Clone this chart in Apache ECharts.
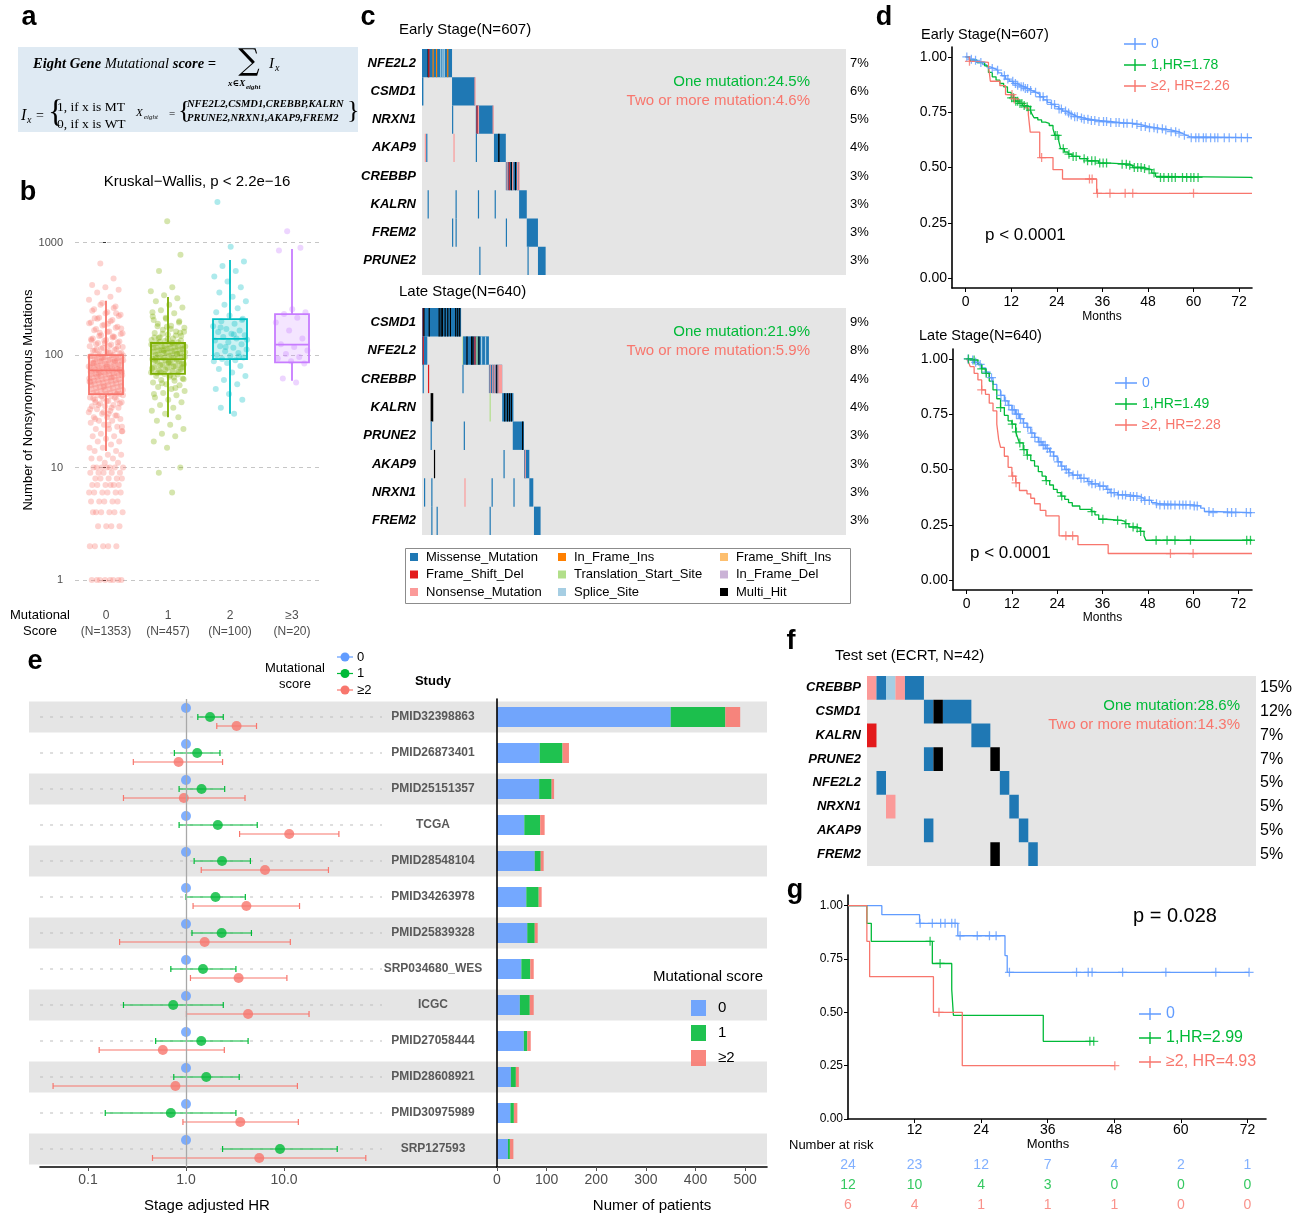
<!DOCTYPE html>
<html>
<head>
<meta charset="utf-8">
<title>Eight gene mutational score</title>
<script src="https://cdn.jsdelivr.net/npm/echarts@6.0.0/dist/echarts.min.js"></script>
<style>
html, body { margin: 0; padding: 0; background: #fff; }
#chart { width: 1298px; height: 1217px; }
</style>
</head>
<body>
<div id="chart"></div>
<script>
// ---------- data ----------
// b: nonsynonymous mutations by score
const scoreLabels = ['0', '1', '2', '≥3'];
const scoreN = [1353, 457, 100, 20];
const boxStats = [[14, 45, 73, 100, 304], [28, 68, 92, 128, 328], [30, 92, 139, 209, 698], [59, 86, 124, 231, 875]];
const tmbTicks = [1, 10, 100, 1000];
const tmb0 = [1, 1, 1, 1, 1, 1, 1, 1, 2, 2, 2, 2, 2, 3, 3, 3, 3, 4, 4, 4, 4, 4, 4, 5, 5, 5, 5, 5, 6, 6, 6, 6, 6, 6,
  7, 7, 7, 7, 7, 7, 8, 8, 8, 8, 8, 9, 9, 9, 9, 9, 10, 10, 10, 10, 10, 10, 10, 11, 11, 12, 12, 12, 13, 13, 14, 14, 15, 15,
  16, 17, 17, 18, 19, 19, 20, 21, 22, 22, 23, 24, 25, 26, 26, 27, 28, 28, 29, 30, 31, 32, 33, 34, 35, 35, 36, 37, 38, 39,
  40, 40, 41, 42, 43, 44, 45, 45, 46, 47, 48, 49, 50, 51, 52, 53, 54, 55, 56, 57, 58, 59, 60, 61, 62, 63, 64, 66, 67,
  68, 69, 70, 71, 72, 74, 75, 76, 77, 78, 80, 81, 83, 85, 86, 88, 90, 91, 92, 94, 96, 98, 100, 102, 105, 108, 110, 113,
  116, 120, 124, 128, 132, 136, 140, 145, 150, 156, 162, 170, 178, 186, 195, 205, 215, 228, 240, 255, 270, 290, 310,
  330, 360, 380, 400, 420, 480, 650,
  21, 24, 27, 29, 31, 33, 34, 36, 37, 39, 41, 42, 43, 44, 46, 47, 48, 49, 50, 51, 52, 53, 54, 55, 56, 57, 58, 59, 60, 61,
  62, 63, 64, 65, 66, 67, 68, 69, 70, 71, 72, 73, 74, 75, 76, 77, 78, 79, 80, 82, 83, 84, 85, 87, 88, 89, 90, 92, 93,
  95, 97, 99, 101, 103, 106, 109, 111, 114, 118, 121, 125, 129, 134, 138, 143, 148, 154, 160, 166, 175, 183, 192, 200,
  210, 222, 235, 248, 262, 280, 23, 30, 38, 45, 52, 58, 63, 68, 73, 79, 84, 89, 94, 99, 104, 112, 119, 127, 135, 147,
  158, 172, 190, 212, 235];
const tmb1 = [6, 9, 10, 15, 17, 19, 20, 22, 24, 26, 28, 30, 32, 34, 36, 38, 40, 42, 44, 46, 48, 50, 52, 54, 55, 57, 59,
  60, 62, 64, 65, 67, 68, 70, 72, 73, 75, 77, 78, 80, 82, 83, 85, 87, 88, 90, 92, 93, 95, 97, 98, 100, 102, 104, 106,
  108, 110, 112, 114, 116, 118, 120, 122, 125, 128, 130, 133, 136, 140, 144, 148, 152, 157, 162, 168, 175, 182, 190,
  200, 210, 220, 235, 250, 265, 280, 300, 320, 340, 370, 400, 560, 780, 1550,
  45, 51, 56, 61, 66, 69, 71, 74, 76, 79, 81, 84, 86, 89, 91, 94, 96, 99, 101, 103, 105, 107, 109, 111, 113, 115, 117,
  119, 121, 124, 127, 131, 135, 139, 143, 149, 155, 161, 170, 180, 195, 215, 240, 63, 70, 78, 86, 93, 102, 110, 119,
  129, 142, 158, 178, 205];
const tmb2 = [30, 34, 40, 45, 50, 55, 60, 65, 70, 75, 80, 85, 88, 90, 92, 95, 98, 100, 104, 108, 112, 116, 120, 125, 130,
  135, 140, 145, 150, 155, 160, 165, 170, 180, 190, 200, 210, 225, 240, 260, 280, 300, 330, 360, 400, 450, 500, 560,
  620, 680, 920, 2300, 97, 118, 137, 152, 176, 205];
const tmb3 = [57, 62, 84, 88, 93, 96, 102, 110, 118, 125, 140, 165, 195, 215, 232, 240, 255, 850, 900, 1260];

// c / f: oncoprints  [row, firstSample, lastSample, type]
const MUT_CODES = ['M', 'FSD', 'NON', 'IFI', 'TSS', 'SPL', 'FSI', 'IFD', 'MH'];
const MUT_NAMES = ['Missense_Mutation', 'Frame_Shift_Del', 'Nonsense_Mutation', 'In_Frame_Ins', 'Translation_Start_Site',
  'Splice_Site', 'Frame_Shift_Ins', 'In_Frame_Del', 'Multi_Hit'];
const MUT_COLORS = ['#1F78B4', '#E31A1C', '#FB9A99', '#FF7F00', '#B2DF8A', '#A6CEE3', '#FDBF6F', '#CAB2D6', '#000000'];

const genesEarly = ['NFE2L2', 'CSMD1', 'NRXN1', 'AKAP9', 'CREBBP', 'KALRN', 'FREM2', 'PRUNE2'];
const pctEarly = ['7%', '6%', '5%', '4%', '3%', '3%', '3%', '3%'];
const segEarly = [
  [0, 0, 42, 'M'], [0, 8, 8, 'MH'], [0, 9, 9, 'FSD'], [0, 15, 15, 'IFI'], [0, 20, 20, 'IFI'], [0, 26, 26, 'SPL'],
  [0, 29, 29, 'SPL'], [0, 31, 31, 'SPL'], [0, 36, 36, 'IFI'],
  [1, 0, 1, 'M'], [1, 43, 75, 'M'], [1, 75, 75, 'NON'],
  [2, 43, 43, 'M'], [2, 77, 101, 'M'], [2, 78, 78, 'FSD'], [2, 80, 80, 'NON'], [2, 101, 101, 'NON'],
  [3, 4, 4, 'NON'], [3, 6, 6, 'M'], [3, 45, 45, 'NON'], [3, 77, 77, 'M'], [3, 103, 119, 'M'], [3, 109, 110, 'MH'],
  [4, 120, 138, 'M'], [4, 121, 121, 'NON'], [4, 124, 124, 'FSD'], [4, 127, 127, 'MH'], [4, 129, 129, 'NON'],
  [4, 133, 133, 'MH'], [4, 136, 136, 'NON'], [4, 138, 138, 'NON'],
  [5, 8, 8, 'M'], [5, 48, 48, 'M'], [5, 80, 80, 'M'], [5, 104, 104, 'M'], [5, 139, 149, 'M'],
  [6, 43, 43, 'M'], [6, 48, 48, 'M'], [6, 120, 120, 'M'], [6, 150, 165, 'M'],
  [7, 82, 82, 'M'], [7, 151, 151, 'M'], [7, 166, 176, 'M']
];
const genesLate = ['CSMD1', 'NFE2L2', 'CREBBP', 'KALRN', 'PRUNE2', 'AKAP9', 'NRXN1', 'FREM2'];
const pctLate = ['9%', '8%', '4%', '4%', '3%', '3%', '3%', '3%'];
const segLate = [
  [0, 0, 58, 'M'], [0, 1, 1, 'FSD'], [0, 2, 2, 'MH'], [0, 10, 10, 'MH'], [0, 25, 25, 'MH'], [0, 28, 28, 'MH'],
  [0, 30, 30, 'MH'], [0, 34, 34, 'MH'], [0, 38, 38, 'MH'], [0, 42, 42, 'MH'], [0, 50, 50, 'MH'], [0, 53, 53, 'MH'],
  [0, 56, 56, 'MH'],
  [1, 0, 7, 'M'], [1, 1, 1, 'FSD'], [1, 61, 61, 'TSS'], [1, 62, 100, 'M'], [1, 67, 67, 'MH'], [1, 74, 74, 'MH'],
  [1, 76, 76, 'MH'], [1, 79, 79, 'FSD'], [1, 82, 82, 'TSS'], [1, 85, 85, 'MH'], [1, 89, 89, 'SPL'], [1, 95, 95, 'SPL'],
  [2, 1, 1, 'M'], [2, 9, 9, 'FSD'], [2, 61, 61, 'M'], [2, 101, 120, 'M'], [2, 102, 102, 'NON'], [2, 106, 106, 'NON'],
  [2, 109, 109, 'NON'], [2, 112, 112, 'MH'], [2, 114, 114, 'NON'], [2, 116, 120, 'NON'],
  [3, 13, 16, 'MH'], [3, 102, 102, 'TSS'], [3, 121, 137, 'M'], [3, 124, 124, 'MH'], [3, 128, 128, 'MH'],
  [3, 131, 131, 'MH'], [3, 134, 134, 'MH'],
  [4, 13, 13, 'M'], [4, 63, 63, 'M'], [4, 137, 153, 'M'], [4, 151, 151, 'MH'],
  [5, 18, 18, 'MH'], [5, 123, 123, 'M'], [5, 154, 161, 'M'], [5, 155, 155, 'NON'],
  [6, 3, 3, 'M'], [6, 14, 14, 'M'], [6, 64, 64, 'NON'], [6, 105, 105, 'M'], [6, 138, 138, 'M'], [6, 162, 167, 'M'],
  [7, 14, 14, 'M'], [7, 22, 22, 'M'], [7, 102, 102, 'M'], [7, 169, 178, 'M']
];
const genesTest = ['CREBBP', 'CSMD1', 'KALRN', 'PRUNE2', 'NFE2L2', 'NRXN1', 'AKAP9', 'FREM2'];
const pctTest = ['15%', '12%', '7%', '7%', '5%', '5%', '5%', '5%'];
const segTest = [
  [0, 0, 0, 'NON'], [0, 1, 1, 'M'], [0, 2, 2, 'SPL'], [0, 3, 3, 'NON'], [0, 4, 5, 'M'],
  [1, 6, 6, 'M'], [1, 7, 7, 'MH'], [1, 8, 10, 'M'],
  [2, 0, 0, 'FSD'], [2, 11, 12, 'M'],
  [3, 6, 6, 'M'], [3, 7, 7, 'MH'], [3, 13, 13, 'MH'],
  [4, 1, 1, 'M'], [4, 14, 14, 'M'],
  [5, 2, 2, 'NON'], [5, 15, 15, 'M'],
  [6, 6, 6, 'M'], [6, 16, 16, 'M'],
  [7, 13, 13, 'MH'], [7, 17, 17, 'M']
];

// d / g: Kaplan-Meier  [month, survival]
const monthTicks = [0, 12, 24, 36, 48, 60, 72];
const survTicks = [0, 0.25, 0.5, 0.75, 1];
const earlyS0 = [[0, 1], [1, 0.99], [2, 0.985], [3, 0.975], [4.5, 0.965], [5.5, 0.955], [6.5, 0.948], [7.5, 0.94],
  [8.5, 0.928], [9.5, 0.915], [10.5, 0.9], [11.5, 0.89], [12.5, 0.88], [13.5, 0.872], [14.5, 0.865], [15.5, 0.857],
  [16.5, 0.848], [17.5, 0.84], [18.5, 0.832], [19.5, 0.82], [20.5, 0.806], [21.5, 0.795], [22.5, 0.785], [23.5, 0.775],
  [24.5, 0.765], [25.5, 0.755], [26.5, 0.746], [27.5, 0.738], [28.5, 0.73], [29.5, 0.724], [31, 0.718], [33, 0.713],
  [35, 0.708], [38, 0.703], [41, 0.7], [44, 0.695], [46, 0.686], [48, 0.68], [50, 0.675], [52, 0.67], [54, 0.662],
  [56, 0.655], [57, 0.646], [58, 0.64], [59, 0.635], [75.4, 0.635]];
const earlyS1 = [[0, 1], [1, 0.985], [3, 0.975], [5, 0.96], [6, 0.93], [7, 0.91], [8, 0.895], [9, 0.88], [10, 0.865],
  [11, 0.84], [12, 0.815], [13, 0.8], [14, 0.79], [15, 0.78], [16, 0.775], [17, 0.76], [17.5, 0.74], [18, 0.725],
  [19, 0.715], [20, 0.705], [21, 0.7], [22, 0.69], [23, 0.675], [23.5, 0.645], [24.5, 0.62], [25, 0.585], [26, 0.57],
  [27, 0.56], [28, 0.55], [30, 0.54], [32, 0.53], [35, 0.52], [38, 0.515], [43, 0.51], [44, 0.5], [47, 0.495],
  [48, 0.49], [49, 0.475], [50, 0.46], [51, 0.455], [75.4, 0.45]];
const earlyS2 = [[0, 1], [1, 0.98], [3, 0.975], [6, 0.96], [6.5, 0.89], [9, 0.87], [10.5, 0.83], [12.5, 0.81],
  [14, 0.79], [15.5, 0.77], [16.5, 0.74], [17, 0.66], [19.5, 0.545], [23, 0.49], [25.5, 0.448], [34.5, 0.383],
  [75.4, 0.383]];
const earlyC0 = [0.3, 1.5, 2.6, 4, 7, 8.4, 10.2, 11.1, 12.4, 13.1, 13.7, 14.6, 15.2, 15.7, 16.3, 17.1, 18.4, 19.6,
  20.4, 21.4, 22.6, 23.4, 24.6, 25.2, 26.3, 27.1, 27.8, 28.7, 29.4, 30.5, 31.2, 32.2, 33.1, 34, 35.1, 36.3, 37.1, 38.2,
  39.6, 40.4, 41.6, 42.5, 43.9, 45.1, 46.2, 47.3, 48.4, 49.6, 50.5, 51.8, 52.7, 54.1, 55.3, 56.2, 57.6, 59.4, 60.6,
  61.4, 62.6, 63.3, 64.5, 65.6, 66.4, 68.1, 69.4, 71.1, 72.6, 74.2];
const earlyC1 = [12.1, 12.6, 13.2, 13.7, 14.3, 14.8, 15.4, 16.2, 17.1, 23.6, 24.1, 25.7, 27.2, 28.3, 29.1, 31.2, 32.1,
  33.2, 34.1, 35.3, 36.2, 37.1, 41.2, 42.3, 43.2, 44.4, 45.3, 46.2, 47.1, 48.3, 49.6, 51.3, 52.2, 53.4, 54.3, 55.2,
  57.1, 58.2, 59.3, 60.1, 61.2];
const earlyC2 = [1, 12.2, 12.8, 20, 32.6, 33.3, 34.7, 38, 42, 44, 60];
const lateS0 = [[0, 1], [1, 0.995], [2, 0.985], [3, 0.975], [4, 0.96], [5, 0.94], [6, 0.915], [7, 0.885], [8, 0.86],
  [9, 0.835], [10, 0.81], [11, 0.79], [12, 0.77], [13, 0.75], [14, 0.73], [15, 0.71], [16, 0.69], [17, 0.665],
  [18, 0.645], [19, 0.625], [20, 0.61], [21, 0.595], [22, 0.58], [23, 0.56], [24, 0.535], [25, 0.515], [26, 0.5],
  [27, 0.485], [28, 0.475], [30, 0.46], [32, 0.445], [33, 0.435], [35, 0.425], [37, 0.41], [38, 0.395], [40, 0.385],
  [43, 0.378], [46, 0.37], [47, 0.36], [49, 0.35], [50, 0.345], [51, 0.34], [60, 0.335], [62, 0.325], [63, 0.31],
  [65, 0.305], [75.6, 0.305]];
const lateS1 = [[0, 1], [1, 0.995], [3, 0.975], [4, 0.955], [5, 0.935], [6, 0.9], [7, 0.86], [8, 0.82], [9, 0.78],
  [10, 0.745], [11, 0.72], [12, 0.705], [13, 0.67], [13.5, 0.645], [14, 0.62], [15, 0.59], [16, 0.565], [17, 0.54],
  [18, 0.515], [19, 0.49], [20, 0.47], [21, 0.45], [22, 0.43], [23, 0.41], [24, 0.395], [25, 0.38], [26, 0.365],
  [27, 0.35], [28, 0.335], [30, 0.32], [33, 0.31], [34, 0.295], [35, 0.275], [37, 0.27], [41, 0.265], [42, 0.255],
  [43, 0.24], [45, 0.235], [46, 0.22], [47, 0.2], [47.5, 0.18], [75.6, 0.18]];
const lateS2 = [[0, 1], [0.5, 0.985], [1, 0.965], [2, 0.935], [3, 0.905], [4, 0.86], [5, 0.84], [6, 0.8], [7, 0.765],
  [8, 0.705], [8.5, 0.635], [9, 0.6], [10, 0.56], [11, 0.51], [12, 0.47], [13, 0.44], [14, 0.405], [16, 0.39],
  [17, 0.37], [18, 0.345], [19.5, 0.315], [21, 0.29], [24.5, 0.2], [29.5, 0.16], [37.5, 0.12], [75.6, 0.12]];
const lateC0 = [0.4, 1.6, 2.4, 3.6, 5.2, 6.6, 9.1, 10.3, 11.2, 12.1, 12.6, 13.2, 13.7, 14.3, 15.1, 16.2, 17.3, 18.1,
  19.2, 19.7, 20.3, 20.8, 21.4, 22.2, 23.1, 24.3, 25.2, 26.4, 27.1, 28.2, 29.4, 30.3, 31.1, 32.4, 33.2, 34.1, 35.3,
  36.2, 37.4, 38.3, 39.1, 40.2, 41.3, 42.1, 43.4, 44.2, 45.1, 46.3, 47.2, 48.4, 50.3, 51.2, 52.4, 53.3, 54.1, 55.2,
  56.4, 57.3, 58.1, 59.2, 60.3, 61.1, 64.2, 65.3, 69.1, 70.2, 71.3, 74.1, 75.2];
const lateC1 = [0.5, 2, 4, 5.2, 9, 12.1, 13.2, 14.1, 15.2, 16.1, 21.1, 25.2, 33.2, 36.1, 40, 42.2, 44.1, 45.2, 46.1,
  50.2, 53.1, 55.2, 59.3, 74.2, 75.2];
const lateC2 = [4, 12.2, 13.1, 26.3, 28.1, 54, 60];
const testS0 = [[0, 1], [6.1, 0.958], [12.9, 0.917], [19.8, 0.859], [28.3, 0.766], [28.7, 0.6875], [72.3, 0.6875]];
const testS1 = [[0, 1], [3.4, 0.917], [4.2, 0.833], [15.2, 0.729], [18.7, 0.607], [19, 0.486], [35.2, 0.364],
  [44.3, 0.364]];
const testS2 = [[0, 1], [3.4, 0.833], [3.9, 0.667], [15.4, 0.5], [20.6, 0.25], [48.1, 0.25]];
const testC0 = [13, 15.2, 16.7, 17.5, 18.7, 19.3, 20.2, 23.3, 25.5, 26.7, 29.1, 41.2, 43.3, 44, 49.5, 57.3, 66.3, 72.3];
const testC1 = [14.8, 16.6, 43.6, 44.3];
const testC2 = [16.4, 48.1];
const riskTimes = [0, 12, 24, 36, 48, 60, 72];
const risk0 = [24, 23, 12, 7, 4, 2, 1];
const risk1 = [12, 10, 4, 3, 0, 0, 0];
const risk2 = [6, 4, 1, 1, 1, 0, 0];

// e: forest + patients
const studies = ['PMID32398863', 'PMID26873401', 'PMID25151357', 'TCGA', 'PMID28548104', 'PMID34263978',
  'PMID25839328', 'SRP034680_WES', 'ICGC', 'PMID27058444', 'PMID28608921', 'PMID30975989', 'SRP127593'];
const hrRef = 1;
const hr1 = [1.76, 1.30, 1.44, 2.11, 2.33, 2.00, 2.31, 1.49, 0.74, 1.43, 1.61, 0.70, 9.10];
const hr1Lo = [1.32, 0.76, 0.85, 0.85, 1.21, 1.00, 1.15, 0.70, 0.23, 0.49, 0.75, 0.15, 2.36];
const hr1Hi = [2.40, 2.22, 2.48, 5.33, 4.54, 4.03, 4.65, 3.23, 2.40, 4.30, 3.49, 3.23, 34.9];
const hr2 = [3.28, 0.84, 0.95, 11.3, 6.40, 4.13, 1.55, 3.44, 4.30, 0.58, 0.78, 3.58, 5.59];
const hr2Lo = [2.06, 0.29, 0.23, 3.52, 1.43, 1.18, 0.21, 1.11, 1.01, 0.13, 0.044, 0.93, 0.455];
const hr2Hi = [5.24, 2.36, 4.00, 36.3, 28.4, 14.4, 11.6, 10.7, 18.0, 2.46, 13.7, 14.0, 68.3];
const hrTicks = [0.1, 1, 10];
const n0 = [350, 86, 85, 55, 76, 59, 61, 49, 46, 54, 28, 27, 22];
const n1 = [110, 46, 25, 32, 12, 25, 15, 18, 20, 7, 10, 7, 4];
const n2 = [30, 13, 5, 9, 6, 6, 6, 7, 8, 7, 6, 7, 7];
const patientTicks = [0, 100, 200, 300, 400, 500];

// ---------- helpers ----------
const SANS = '"Liberation Sans", Arial, Helvetica, sans-serif';
const SERIF = '"Liberation Serif", "DejaVu Serif", serif';
const BLUE = '#619CFF', GREEN = '#00BA38', RED = '#F8766D';
const KM_COLORS = [BLUE, GREEN, RED];
const BOX_COLORS = ['#F8766D', '#7CAE00', '#00BFC4', '#C77CFF'];
const PLUS = 'path://M0,4.3H10V5.7H0Z M4.3,0H5.7V10H4.3Z';
const PLUS_LINE = 'path://M0,5.3H22V6.7H0Z M10.3,0H11.7V12H10.3Z';

const grids = [], xAxes = [], yAxes = [], series = [], graphics = [], legends = [];
function addGrid(g) { grids.push(Object.assign({ containLabel: false, show: false }, g)); return grids.length - 1; }
function addX(a) { xAxes.push(a); return xAxes.length - 1; }
function addY(a) { yAxes.push(a); return yAxes.length - 1; }
function hexA(hex, a) {
  const n = parseInt(hex.slice(1), 16);
  return 'rgba(' + (n >> 16) + ',' + ((n >> 8) & 255) + ',' + (n & 255) + ',' + a + ')';
}
function T(x, y, text, o) {
  o = o || {};
  return {
    type: 'text', x: x, y: y, silent: true, z: 50,
    style: Object.assign({
      text: text, fill: o.fill || '#000', fontSize: o.size || 13, fontFamily: o.family || SANS,
      fontWeight: o.weight || 'normal', fontStyle: o.style || 'normal',
      align: o.align || 'left', verticalAlign: 'middle', textAlign: o.align || 'left', textVerticalAlign: 'middle'
    }, o.extra || {})
  };
}
// deterministic horizontal jitter (golden-ratio sequence), spread +-0.28 of a category
function jitter(i) { return (((i + 1) * 0.6180339887) % 1 - 0.5) * 0.56; }
function survAt(curve, t) {
  let s = curve[0][1];
  for (const p of curve) { if (p[0] <= t) s = p[1]; else break; }
  return s;
}

// ---------- a: formula ----------
graphics.push({ type: 'rect', shape: { x: 18, y: 47, width: 340, height: 85 }, style: { fill: '#dfeaf3' }, silent: true });
const fb = { fontFamily: SERIF, fontStyle: 'italic', fontWeight: 'bold', fontSize: 14.5 };
const fn = { fontFamily: SERIF, fontStyle: 'italic', fontSize: 14.5 };
graphics.push(T(33, 64, '{b|Eight Gene }{n|Mutational}{b| score =}', { extra: { rich: { b: fb, n: fn } } }));
graphics.push(T(249, 62, '∑', { size: 30, family: '"DejaVu Serif", serif', align: 'center' }));
graphics.push(T(269, 64, 'I', { size: 15, family: SERIF, style: 'italic' }));
graphics.push(T(275, 68, 'x', { size: 10, family: SERIF, style: 'italic' }));
graphics.push(T(228, 84, 'x∈X', { size: 9, family: SERIF, style: 'italic', weight: 'bold' }));
graphics.push(T(246, 87, 'eight', { size: 7, family: SERIF, style: 'italic', weight: 'bold' }));
graphics.push(T(21, 116, 'I', { size: 16, family: SERIF, style: 'italic' }));
graphics.push(T(27, 120, 'x', { size: 10, family: SERIF, style: 'italic' }));
graphics.push(T(36, 116, '=', { size: 14, family: SERIF }));
graphics.push(T(48, 114, '{', { size: 32, family: SERIF }));
graphics.push(T(57, 107, '1, if x is MT', { size: 13.5, family: SERIF }));
graphics.push(T(57, 124, '0, if x is WT', { size: 13.5, family: SERIF }));
graphics.push(T(136, 113, 'X', { size: 11, family: SERIF, style: 'italic' }));
graphics.push(T(144, 117, 'eight', { size: 7, family: SERIF, style: 'italic' }));
graphics.push(T(169, 114, '=', { size: 11, family: SERIF }));
graphics.push(T(178, 111, '{', { size: 26, family: SERIF }));
graphics.push(T(187, 104, 'NFE2L2,CSMD1,CREBBP,KALRN', { size: 10.5, family: SERIF, style: 'italic', weight: 'bold' }));
graphics.push(T(187, 118, 'PRUNE2,NRXN1,AKAP9,FREM2', { size: 10.5, family: SERIF, style: 'italic', weight: 'bold' }));
graphics.push(T(347, 111, '}', { size: 26, family: SERIF }));

// panel letters
[['a', 29, 18], ['b', 28, 193], ['c', 368, 18], ['d', 884, 18], ['e', 35, 662], ['f', 791, 642], ['g', 795, 891]]
  .forEach(l => graphics.push(T(l[1], l[2], l[0], { size: 27, weight: 'bold', align: 'center' })));

// ---------- b: boxplot + jitter ----------
const gB = addGrid({ left: 75, top: 200, width: 248, height: 400 });
const xB = addX({
  gridIndex: gB, type: 'category', data: scoreLabels.map((s, i) => s + '\n(N=' + scoreN[i] + ')'),
  axisLine: { show: false }, axisTick: { alignWithLabel: true, length: 5, lineStyle: { color: '#333' } },
  axisLabel: { interval: 0, color: '#4d4d4d', fontSize: 12, lineHeight: 16, margin: 8 }
});
const xBj = addX({ gridIndex: gB, type: 'value', min: -0.5, max: 3.5, show: false });
const yB = addY({
  gridIndex: gB, type: 'log', min: 0.664, max: 2390, offset: 7,
  axisLine: { show: false },
  axisTick: { show: true, customValues: tmbTicks, length: 4, lineStyle: { color: '#333' } },
  axisLabel: { customValues: tmbTicks, formatter: v => String(Math.round(v)), fontSize: 11, color: '#4d4d4d', margin: 5 },
  splitLine: { show: false }, minorTick: { show: false },
  name: 'Number of Nonsynonymous Mutations', nameLocation: 'middle', nameGap: 33,
  nameTextStyle: { fontSize: 13, color: '#000' }
});
series.push({
  type: 'custom', xAxisIndex: xB, yAxisIndex: yB, z: 2, silent: true, encode: { x: 0, y: [1, 2, 3, 4, 5] },
  data: boxStats.map((d, i) => [i].concat(d)),
  renderItem(params, api) {
    const g = api.value(0), col = BOX_COLORS[g], hw = 17;
    const p = [1, 2, 3, 4, 5].map(k => api.coord([g, api.value(k)]));
    const cx = p[0][0], st = { stroke: col, lineWidth: 1.8 };
    return {
      type: 'group', children: [
        { type: 'line', shape: { x1: cx, y1: p[0][1], x2: cx, y2: p[1][1] }, style: st },
        { type: 'line', shape: { x1: cx, y1: p[3][1], x2: cx, y2: p[4][1] }, style: st },
        { type: 'rect', shape: { x: cx - hw, y: p[3][1], width: 2 * hw, height: p[1][1] - p[3][1] }, style: { fill: hexA(col, 0.2), stroke: col, lineWidth: 1.8 } },
        { type: 'line', shape: { x1: cx - hw, y1: p[2][1], x2: cx + hw, y2: p[2][1] }, style: st }
      ]
    };
  }
});
[tmb0, tmb1, tmb2, tmb3].forEach((vals, g) => {
  const s = {
    type: 'scatter', xAxisIndex: xBj, yAxisIndex: yB, symbolSize: 6, z: 3, silent: true,
    itemStyle: { color: BOX_COLORS[g], opacity: 0.32 },
    data: vals.map((v, i) => [g + jitter(i), v])
  };
  if (g === 0) {
    s.markLine = {
      silent: true, symbol: 'none', label: { show: false }, z: 1,
      lineStyle: { color: '#c6c6c6', type: [4, 4], width: 1, opacity: 1 },
      data: tmbTicks.map(v => ({ yAxis: v }))
    };
  }
  series.push(s);
});
graphics.push(T(197, 182, 'Kruskal−Wallis, p < 2.2e−16', { size: 15, align: 'center' }));
graphics.push(T(40, 615, 'Mutational', { size: 13, align: 'center' }));
graphics.push(T(40, 631, 'Score', { size: 13, align: 'center' }));

// ---------- c / f: oncoprints ----------
function oncoRender(params, api) {
  const row = api.value(0), s0 = api.value(1), s1 = api.value(2), t = api.value(3);
  const p0 = api.coord([s0, row]), p1 = api.coord([s1 + 1, row]);
  const h = api.size([0, 1])[1];
  return { type: 'rect', shape: { x: p0[0], y: p0[1] - h / 2, width: Math.max(p1[0] - p0[0], 1.2), height: h }, style: { fill: MUT_COLORS[t] } };
}
function oncoPanel(left, top, width, height, nSamples, genes, pcts, segs, pctSize) {
  const g = addGrid({ left, top, width, height, show: true, backgroundColor: '#e5e5e5', borderWidth: 0 });
  const x = addX({ gridIndex: g, type: 'value', min: 0, max: nSamples, show: false });
  const y = addY({
    gridIndex: g, type: 'category', data: genes, inverse: true,
    axisLine: { show: false }, axisTick: { show: false },
    axisLabel: { fontSize: 13, fontWeight: 'bold', fontStyle: 'italic', color: '#000', margin: 6 }
  });
  addY({
    gridIndex: g, type: 'category', position: 'right', data: pcts, inverse: true,
    axisLine: { show: false }, axisTick: { show: false },
    axisLabel: { fontSize: pctSize, color: '#000', margin: 4 }
  });
  series.push({
    type: 'custom', xAxisIndex: x, yAxisIndex: y, renderItem: oncoRender, encode: { x: [1, 2], y: 0 }, silent: true, z: 2,
    data: segs.map(s => [s[0], s[1], s[2], MUT_CODES.indexOf(s[3])])
  });
}
oncoPanel(422, 49, 424, 226, 607, genesEarly, pctEarly, segEarly, 13);
oncoPanel(422, 308, 424, 227, 640, genesLate, pctLate, segLate, 13);
oncoPanel(867, 676, 389, 190, 41, genesTest, pctTest, segTest, 16);

graphics.push(T(399, 30, 'Early Stage(N=607)', { size: 15 }));
graphics.push(T(399, 292, 'Late Stage(N=640)', { size: 15 }));
graphics.push(T(810, 82, 'One mutation:24.5%', { size: 15, fill: GREEN, align: 'right' }));
graphics.push(T(810, 101, 'Two or more mutation:4.6%', { size: 15, fill: RED, align: 'right' }));
graphics.push(T(810, 332, 'One mutation:21.9%', { size: 15, fill: GREEN, align: 'right' }));
graphics.push(T(810, 351, 'Two or more mutation:5.9%', { size: 15, fill: RED, align: 'right' }));
graphics.push({ type: 'rect', shape: { x: 405.5, y: 548.5, width: 445, height: 55 }, style: { fill: 'none', stroke: '#8c8c8c', lineWidth: 1 }, silent: true });
MUT_NAMES.forEach((nm, i) => {
  const cx = [410, 558, 720][Math.floor(i / 3)], cy = 557 + (i % 3) * 17.5;
  graphics.push({ type: 'rect', shape: { x: cx, y: cy - 4, width: 8, height: 8 }, style: { fill: MUT_COLORS[i] }, silent: true });
  graphics.push(T(cx + 16, cy, nm, { size: 13 }));
});
graphics.push(T(835, 656, 'Test set (ECRT, N=42)', { size: 15 }));
graphics.push(T(1240, 706, 'One mutation:28.6%', { size: 15, fill: GREEN, align: 'right' }));
graphics.push(T(1240, 725, 'Two or more mutation:14.3%', { size: 15, fill: RED, align: 'right' }));

// ---------- d / g: Kaplan-Meier ----------
function kmGrid(o) {
  const g = addGrid({ left: o.left, top: o.top, width: o.width, height: o.height });
  const x = addX({
    gridIndex: g, type: 'value', min: o.xMin, max: o.xMax,
    axisLine: { onZero: false, lineStyle: { color: '#000', width: 1.6 } },
    axisTick: { customValues: o.xTicks, length: 4, lineStyle: { color: '#000' } },
    axisLabel: { customValues: o.xTicks, fontSize: o.xFont, color: '#000', margin: o.xMargin },
    splitLine: { show: false },
    name: 'Months', nameLocation: 'middle', nameGap: o.nameGap,
    nameTextStyle: { fontSize: o.nameSize, color: '#000', padding: o.namePad || 0 }
  });
  const y = addY({
    gridIndex: g, type: 'value', min: o.yMin, max: o.yMax,
    axisLine: { show: true, onZero: false, lineStyle: { color: '#000', width: 1.6 } },
    axisTick: { show: true, customValues: survTicks, length: 4, lineStyle: { color: '#000' } },
    axisLabel: { customValues: survTicks, formatter: v => v.toFixed(2), fontSize: o.yFont, color: '#000', margin: 5 },
    splitLine: { show: false }
  });
  return { x, y };
}
function kmCurve(ax, name, curve, censor, color) {
  series.push({
    type: 'line', name: name, xAxisIndex: ax.x, yAxisIndex: ax.y, step: 'end', showSymbol: false, silent: true, z: 3,
    data: curve, itemStyle: { color: color }, lineStyle: { color: color, width: 1.3 }
  });
  series.push({
    type: 'scatter', name: name + ' censored', xAxisIndex: ax.x, yAxisIndex: ax.y, symbol: PLUS, symbolSize: 9,
    silent: true, z: 4, itemStyle: { color: color }, data: censor.map(t => [t, survAt(curve, t)])
  });
}
function kmLegend(left, top, names, size, gap) {
  legends.push({
    left: left, top: top, orient: 'vertical', padding: 0, itemGap: gap, itemWidth: 22, itemHeight: 12,
    selectedMode: false, textStyle: { fontSize: size },
    data: names.map((n, k) => ({ name: n, icon: PLUS_LINE, textStyle: { color: KM_COLORS[k], fontSize: size } }))
  });
}

const namesEarly = ['0', '1,HR=1.78', '≥2, HR=2.26'];
const axE = kmGrid({ left: 952, top: 47, width: 300, height: 241, xMin: -3.6, xMax: 75.4, yMin: -0.045, yMax: 1.045,
  xTicks: monthTicks, xFont: 14, yFont: 14, xMargin: 7, nameGap: 23, nameSize: 12 });
kmCurve(axE, namesEarly[0], earlyS0, earlyC0, BLUE);
kmCurve(axE, namesEarly[1], earlyS1, earlyC1, GREEN);
kmCurve(axE, namesEarly[2], earlyS2, earlyC2, RED);
kmLegend(1124, 37, namesEarly, 14, 7);
graphics.push(T(921, 35, 'Early Stage(N=607)', { size: 14.5 }));
graphics.push(T(985, 235, 'p < 0.0001', { size: 17 }));

const namesLate = ['0', '1,HR=1.49', '≥2, HR=2.28'];
const axL = kmGrid({ left: 953, top: 349, width: 299, height: 241, xMin: -3.6, xMax: 75.6, yMin: -0.045, yMax: 1.045,
  xTicks: monthTicks, xFont: 14, yFont: 14, xMargin: 7, nameGap: 22, nameSize: 12 });
kmCurve(axL, namesLate[0], lateS0, lateC0, BLUE);
kmCurve(axL, namesLate[1], lateS1, lateC1, GREEN);
kmCurve(axL, namesLate[2], lateS2, lateC2, RED);
kmLegend(1115, 376, namesLate, 14, 7);
graphics.push(T(919, 336, 'Late Stage(N=640)', { size: 14.5 }));
graphics.push(T(970, 553, 'p < 0.0001', { size: 17 }));

const namesTest = ['0', '1,HR=2.99', '≥2, HR=4.93'];
const axG = kmGrid({ left: 848, top: 895, width: 418, height: 224, xMin: 0, xMax: 75.35, yMin: 0, yMax: 1.05,
  xTicks: monthTicks.slice(1), xFont: 14, yFont: 12, xMargin: 4, nameGap: 19, nameSize: 13, namePad: [0, 18, 0, 0] });
kmCurve(axG, namesTest[0], testS0, testC0, BLUE);
kmCurve(axG, namesTest[1], testS1, testC1, GREEN);
kmCurve(axG, namesTest[2], testS2, testC2, RED);
kmLegend(1139, 1006, namesTest, 16, 8);
graphics.push(T(1133, 916, 'p = 0.028', { size: 20 }));
graphics.push(T(789, 1145, 'Number at risk', { size: 13 }));

const gR = addGrid({ left: 848, top: 1155, width: 418, height: 60 });
const xR = addX({ gridIndex: gR, type: 'value', min: 0, max: 75.35, show: false });
const yR = addY({ gridIndex: gR, type: 'category', data: ['0', '1', '≥2'], inverse: true, show: false });
[risk0, risk1, risk2].forEach((arr, k) => {
  series.push({
    type: 'scatter', xAxisIndex: xR, yAxisIndex: yR, symbolSize: 0, silent: true, z: 5,
    itemStyle: { color: 'rgba(0,0,0,0)' },
    label: { show: true, position: 'inside', formatter: p => String(p.value[2]), fontSize: 14, color: KM_COLORS[k] },
    data: riskTimes.map((t, i) => [t, k, arr[i]])
  });
});

// ---------- e: forest plot + patient numbers ----------
const gBand = addGrid({ left: 29, top: 699, width: 738, height: 468 });
const xBand = addX({ gridIndex: gBand, type: 'value', min: 0, max: 1, show: false });
const yBand = addY({ gridIndex: gBand, type: 'value', min: -0.5, max: 12.5, inverse: true, show: false });
series.push({
  type: 'custom', xAxisIndex: xBand, yAxisIndex: yBand, z: -1, silent: true, encode: { x: 0, y: 1 },
  data: studies.map((s, i) => [0.5, i]).filter(d => d[1] % 2 === 0),
  renderItem(params, api) {
    const i = api.value(1), cs = params.coordSys;
    const a = api.coord([0.5, i - 0.43])[1], b = api.coord([0.5, i + 0.43])[1];
    return { type: 'rect', shape: { x: cs.x, y: Math.min(a, b), width: cs.width, height: Math.abs(b - a) }, style: { fill: '#e5e5e5' } };
  }
});

const DODGE = 9;
const gF = addGrid({ left: 40, top: 699, width: 457, height: 468 });
const xF = addX({
  gridIndex: gF, type: 'log', min: 0.03237, max: 1490, z: 3,
  axisLine: { onZero: false, lineStyle: { color: '#000', width: 1.6 } },
  axisTick: { customValues: hrTicks, length: 4, lineStyle: { color: '#555' } },
  axisLabel: { customValues: hrTicks, formatter: v => v.toFixed(1), fontSize: 14, color: '#4d4d4d', margin: 6 },
  splitLine: { show: false }, minorTick: { show: false },
  name: 'Stage adjusted HR', nameLocation: 'middle', nameGap: 31,
  nameTextStyle: { fontSize: 15, color: '#000', padding: [0, 123, 0, 0] }
});
const yF = addY({
  gridIndex: gF, type: 'value', min: -0.5, max: 12.5, inverse: true, position: 'right',
  axisLine: { show: false }, axisTick: { show: false }, splitLine: { show: false },
  axisLabel: {
    customValues: studies.map((s, i) => i), formatter: v => studies[Math.round(v)],
    inside: true, align: 'center', margin: 64, fontSize: 12, fontWeight: 'bold', color: '#595959'
  }
});
series.push({
  type: 'custom', xAxisIndex: xF, yAxisIndex: yF, z: 1, silent: true, encode: { x: 0, y: 1 },
  data: studies.map((s, i) => [hrRef, i]),
  renderItem(params, api) {
    const i = api.value(1);
    const a = api.coord([0.0324, i]), b = api.coord([100, i]);
    return { type: 'line', shape: { x1: a[0], y1: a[1], x2: b[0], y2: b[1] }, style: { stroke: '#bdbdbd', lineWidth: 1, lineDash: [3, 7] } };
  },
  markLine: {
    silent: true, symbol: 'none', label: { show: false },
    lineStyle: { color: '#a8a8a8', type: 'solid', width: 1.3 }, data: [{ xAxis: hrRef }]
  }
});
function ciSeries(lo, hi, dy, color) {
  series.push({
    type: 'custom', xAxisIndex: xF, yAxisIndex: yF, z: 2, silent: true, encode: { x: [0, 1], y: 2 },
    data: lo.map((l, i) => [l, hi[i], i]),
    renderItem(params, api) {
      const i = api.value(2);
      const a = api.coord([api.value(0), i]), b = api.coord([api.value(1), i]);
      const y = a[1] + dy, st = { stroke: color, lineWidth: 1.2 };
      return {
        type: 'group', children: [
          { type: 'line', shape: { x1: a[0], y1: y, x2: b[0], y2: y }, style: st },
          { type: 'line', shape: { x1: a[0], y1: y - 3, x2: a[0], y2: y + 3 }, style: st },
          { type: 'line', shape: { x1: b[0], y1: y - 3, x2: b[0], y2: y + 3 }, style: st }
        ]
      };
    }
  });
}
ciSeries(hr1Lo, hr1Hi, 0, GREEN);
ciSeries(hr2Lo, hr2Hi, DODGE, RED);
[[studies.map(() => hrRef), BLUE, -DODGE], [hr1, GREEN, 0], [hr2, RED, DODGE]].forEach(p => {
  series.push({
    type: 'scatter', xAxisIndex: xF, yAxisIndex: yF, symbolSize: 10, z: 4, silent: true,
    symbolOffset: [0, p[2]], itemStyle: { color: p[1] },
    data: p[0].map((v, i) => [v, i])
  });
});
graphics.push(T(433, 681, 'Study', { size: 13, weight: 'bold', align: 'center' }));
graphics.push(T(295, 668, 'Mutational', { size: 13, align: 'center' }));
graphics.push(T(295, 684, 'score', { size: 13, align: 'center' }));
['0', '1', '≥2'].forEach((s, k) => {
  const y = 657 + k * 16.5;
  graphics.push({ type: 'line', shape: { x1: 337, y1: y, x2: 353, y2: y }, style: { stroke: KM_COLORS[k], lineWidth: 1.2 }, silent: true });
  graphics.push({ type: 'circle', shape: { cx: 345, cy: y, r: 4.5 }, style: { fill: KM_COLORS[k] }, silent: true });
  graphics.push(T(357, y, s, { size: 13 }));
});

const gN = addGrid({ left: 497, top: 699, width: 270, height: 468 });
const xN = addX({
  gridIndex: gN, type: 'value', min: 0, max: 544, z: 3,
  axisLine: { show: true, onZero: false, lineStyle: { color: '#000', width: 1.6 } },
  axisTick: { show: true, customValues: patientTicks, length: 4, lineStyle: { color: '#555' } },
  axisLabel: { customValues: patientTicks, fontSize: 14, color: '#4d4d4d', margin: 6 },
  splitLine: { show: false },
  name: 'Numer of patients', nameLocation: 'middle', nameGap: 31,
  nameTextStyle: { fontSize: 15, color: '#000', padding: [0, 0, 0, 40] }
});
const yN = addY({
  gridIndex: gN, type: 'category', data: studies, inverse: true, z: 3,
  axisLine: { show: true, lineStyle: { color: '#000', width: 1.6 } }, axisTick: { show: false }, axisLabel: { show: false }
});
[[n0, BLUE], [n1, GREEN], [n2, RED]].forEach(p => {
  series.push({
    type: 'bar', xAxisIndex: xN, yAxisIndex: yN, stack: 'n', barWidth: 20, silent: true, z: 2,
    itemStyle: { color: p[1], opacity: 0.88 }, data: p[0]
  });
});
graphics.push(T(653, 977, 'Mutational score', { size: 15 }));
['0', '1', '≥2'].forEach((s, k) => {
  const y = 1008 + k * 25;
  graphics.push({ type: 'rect', shape: { x: 691, y: y - 8, width: 15, height: 16 }, style: { fill: KM_COLORS[k], opacity: 0.88 }, silent: true });
  graphics.push(T(718, y, s, { size: 15 }));
});

// ---------- chart ----------
const chart = echarts.init(document.getElementById('chart'), null, { renderer: 'canvas' });
chart.setOption({
  backgroundColor: '#fff',
  animation: false,
  textStyle: { fontFamily: SANS },
  tooltip: { show: false },
  grid: grids,
  xAxis: xAxes,
  yAxis: yAxes,
  legend: legends,
  graphic: { elements: graphics },
  series: series
});
</script>
</body>
</html>
